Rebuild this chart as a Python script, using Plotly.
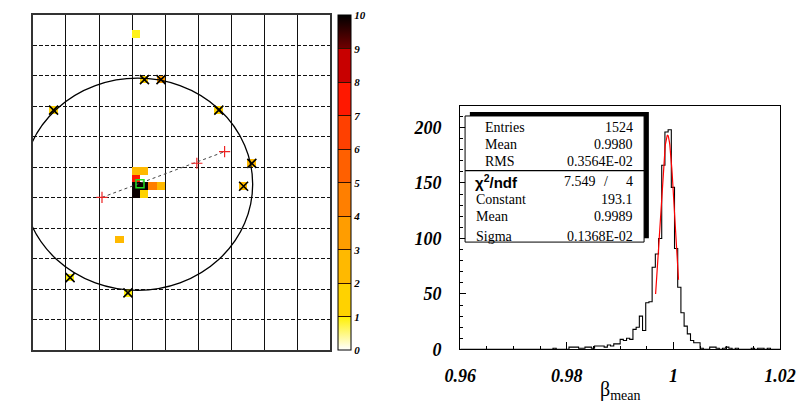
import numpy as np
import plotly.graph_objects as go

W, H = 806, 406

# ---------------- left panel (event display) ----------------
grid_nx, grid_ny = 9, 11
cell = 0.25
# cluster / isolated cells: lower-left corner (x, y) and content
clu_x = [3.0, 3.25, 3.0, 3.0, 3.25, 3.5, 3.75, 3.0, 3.25, 3.0, 2.5]
clu_y = [5.75, 5.75, 5.5, 5.25, 5.25, 5.25, 5.25, 5.0, 5.0, 10.25, 3.5]
clu_v = [2.5, 2.5, 7.5, 9.9, 9.9, 4.0, 2.6, 9.9, 1.1, 0.9, 2.3]
# ring hits (cells marked with X)
hit_x = [3.25, 3.75, 0.5, 5.5, 6.5, 6.25, 1.0, 2.75]
hit_y = [8.75, 8.75, 7.75, 7.75, 6.0, 5.25, 2.25, 1.75]
hit_v = [1.6, 3.2, 1.0, 1.7, 2.8, 2.4, 0.95, 0.95]
# fitted ring
ring_cx, ring_cy, ring_r = 3.17, 5.44, 3.48
# track points
track_x = [2.09, 4.96, 5.80]
track_y = [5.01, 6.13, 6.51]
center_x, center_y = [3.24], [5.46]

# ---------------- right panel (histogram) ----------------
h_lo, h_hi, h_nbins = 0.96, 1.02, 100
counts = [
    0, 0, 0, 0, 0, 0, 0, 0, 0, 0,
    0, 0, 0, 0, 0, 0, 0, 0, 0, 0,
    0, 0, 0, 0, 0, 0, 0, 0, 0, 1,
    0, 0, 0, 0, 2, 2, 2, 1, 1, 2,
    2, 1, 3, 3, 3, 2, 4, 3, 5, 5,
    9, 8, 10, 9, 18, 20, 30, 17, 42, 43,
    74, 86, 100, 166, 196, 198, 146, 91, 56, 33,
    21, 14, 8, 6, 6, 1, 0, 0, 2, 2,
    1, 0, 1, 2, 1, 0, 1, 0, 0, 0,
    0, 1, 0, 1, 1, 0, 1, 0, 0, 0,
]
fit_const, fit_mean, fit_sigma = 193.1, 0.9989, 0.1368e-2
fit_lo, fit_hi = 0.99665, 1.00095
stats_top = [("Entries", "1524"), ("Mean", "0.9980"), ("RMS", "0.3564E-02")]
stats_bot = [("Constant", "193.1"), ("Mean", "0.9989"), ("Sigma", "0.1368E-02")]
chi2_val, ndf_val = "7.549", "4"

# ---------------- build ----------------
def P(x, y):
    return x / W, 1 - y / H

nx, ny = int(grid_nx / cell), int(grid_ny / cell)
z = [[None] * nx for _ in range(ny)]
for xs, ys, vs in ((clu_x, clu_y, clu_v), (hit_x, hit_y, hit_v)):
    for x, y, v in zip(xs, ys, vs):
        z[int(round(y / cell))][int(round(x / cell))] = v

bands = ['#ffd200', '#ffb900', '#ff9d00', '#ff7f00', '#ff6000', '#ff4000', '#ff1800', '#c80000']
cs = [[0.0, '#ffffff'], [0.1, '#fff000']]
for k, c in enumerate(bands, start=1):
    cs += [[k / 10, c], [(k + 1) / 10, c]]
cs += [[0.9, '#700000'], [1.0, '#000000']]

fig = go.Figure()

cb_font = dict(family="Liberation Serif", size=11, weight="bold", style="italic", color="black")
fig.add_trace(go.Heatmap(
    z=z, x0=cell / 2, dx=cell, y0=cell / 2, dy=cell,
    zmin=0, zmax=10, colorscale=cs, xaxis="x", yaxis="y", hoverongaps=False,
    colorbar=dict(
        x=327.3 / W, xanchor="left", xpad=0, ypad=0,
        y=1 - 179.2 / H, yanchor="middle", len=343.7 / H, lenmode="fraction",
        thickness=13, thicknessmode="pixels",
        outlinecolor="black", outlinewidth=1,
        tickvals=list(range(11)), ticktext=[str(i) for i in range(11)],
        ticks="inside", ticklen=13, tickcolor="#331100", tickwidth=1,
        tickfont=cb_font,
    ),
))

fig.add_trace(go.Scatter(
    x=[x + cell / 2 for x in hit_x], y=[y + cell / 2 for y in hit_y],
    mode="markers", xaxis="x", yaxis="y",
    marker=dict(symbol="x-thin", size=9, line=dict(color="black", width=1.6)),
    showlegend=False))

fig.add_trace(go.Scatter(
    x=[track_x[0], track_x[-1]], y=[track_y[0], track_y[-1]],
    mode="lines", xaxis="x", yaxis="y",
    line=dict(color="#444444", width=1, dash="3px,3px"), showlegend=False))
fig.add_trace(go.Scatter(
    x=track_x, y=track_y, mode="markers", xaxis="x", yaxis="y",
    marker=dict(symbol="cross-thin", size=8, line=dict(color="#ee2222", width=1.2)),
    showlegend=False))
fig.add_trace(go.Scatter(
    x=center_x, y=center_y, mode="markers", xaxis="x", yaxis="y",
    marker=dict(symbol="square-open", size=8, color="#22dd22", line=dict(color="#22dd22", width=1.5)),
    showlegend=False))

# histogram
bw = (h_hi - h_lo) / h_nbins
edges = [h_lo + k * bw for k in range(h_nbins + 1)]
fig.add_trace(go.Scatter(
    x=edges, y=counts + [counts[-1]], mode="lines", line_shape="hv",
    line=dict(color="black", width=1.1), xaxis="x2", yaxis="y2", showlegend=False))
fx = np.linspace(fit_lo, fit_hi, 80)
fy = fit_const * np.exp(-0.5 * ((fx - fit_mean) / fit_sigma) ** 2)
fig.add_trace(go.Scatter(
    x=fx, y=fy, mode="lines", line=dict(color="red", width=1.2),
    xaxis="x2", yaxis="y2", showlegend=False))

shapes = [
    dict(type="circle", xref="x", yref="y",
         x0=ring_cx - ring_r, x1=ring_cx + ring_r, y0=ring_cy - ring_r, y1=ring_cy + ring_r,
         line=dict(color="black", width=1.3)),
]
# stats box
bx0, by0, bx1, by1 = 459.3, 110.7, 645.7, 240.0
sx, sy = P(bx0 + 5, by0 - 4)
sx1, sy1 = P(bx1 + 5, by1 - 4)
shapes.append(dict(type="rect", xref="paper", yref="paper", x0=sx, x1=sx1, y0=sy1, y1=sy,
                   fillcolor="black", line=dict(width=0), layer="above"))
a0, b0 = P(bx0, by0)
a1, b1 = P(bx1, by1)
shapes.append(dict(type="rect", xref="paper", yref="paper", x0=a0, x1=a1, y0=b1, y1=b0,
                   fillcolor="white", line=dict(color="black", width=1), layer="above"))
d0, dy = P(bx0, 166.7)
shapes.append(dict(type="line", xref="paper", yref="paper", x0=a0, x1=a1, y0=dy, y1=dy,
                   line=dict(color="black", width=1.2), layer="above"))

ann = []
sfont = dict(family="Liberation Serif", size=14, color="black")
def text(x, y, s, anchor, font=sfont):
    px, py = P(x, y)
    ann.append(dict(xref="paper", yref="paper", x=px, y=py, text=s, showarrow=False,
                    xanchor=anchor, yanchor="middle", font=font))

for (lab, val), yy in zip(stats_top, [122.3, 140.0, 157.7]):
    text(478, yy, lab, "left")
    text(636, yy, val, "right")
text(468, 178.3, "χ<sup>2</sup>/ndf", "left",
     dict(family="Liberation Sans", size=15, weight="bold", color="black"))
text(560, 178.3, chi2_val, "left")
text(606, 178.3, "/", "center")
text(636, 178.3, ndf_val, "right")
for (lab, val), yy in zip(stats_bot, [196.7, 214.0, 234.0]):
    text(469, yy, lab, "left")
    text(636, yy, val, "right")
text(621, 392, "β<sub>mean</sub>", "center",
     dict(family="Liberation Serif", size=20, color="black"))

tick_font = dict(family="Liberation Serif", size=18, weight="bold", style="italic", color="black")

fig.update_layout(
    width=W, height=H, margin=dict(l=0, r=0, t=0, b=0),
    paper_bgcolor="white", plot_bgcolor="white", showlegend=False,
    shapes=shapes, annotations=ann,
    xaxis=dict(domain=[9.3 / W, 319 / W], range=[0, grid_nx], dtick=1, tick0=0,
               showgrid=True, gridcolor="#111111", gridwidth=1, showticklabels=False,
               ticks="", zeroline=False, showline=True, linecolor="#333333", linewidth=1.5,
               mirror=True, anchor="y"),
    yaxis=dict(domain=[1 - 350.7 / H, 1 - 7 / H], range=[0, grid_ny], dtick=1, tick0=0,
               showgrid=True, gridcolor="#111111", gridwidth=1, griddash="4px,2px",
               showticklabels=False, ticks="", zeroline=False, showline=True,
               linecolor="#333333", linewidth=1.5, mirror=True, anchor="x"),
    xaxis2=dict(domain=[454.3 / W, 787.3 / W], range=[h_lo, h_hi], anchor="y2",
                tickvals=[0.96, 0.98, 1.0, 1.02], ticktext=["0.96", "0.98", "1", "1.02"],
                ticks="inside", ticklen=7, tickcolor="black", tickfont=tick_font,
                ticklabelstandoff=10,
                minor=dict(dtick=0.005, tick0=0.96, ticks="inside", ticklen=3.5, tickcolor="black"),
                showgrid=False, zeroline=False, showline=True, linecolor="black",
                linewidth=1.2, mirror=True),
    yaxis2=dict(domain=[1 - 350 / H, 1 - 100 / H], range=[0, 219.8], anchor="x2",
                tickvals=[0, 50, 100, 150, 200], ticks="inside", ticklen=6,
                tickcolor="black", tickfont=tick_font, ticklabelstandoff=14,
                minor=dict(dtick=10, tick0=0, ticks="inside", ticklen=3, tickcolor="black"),
                showgrid=False, zeroline=False, showline=True, linecolor="black",
                linewidth=1.2, mirror=True),
)

fig.write_html("out.html")
